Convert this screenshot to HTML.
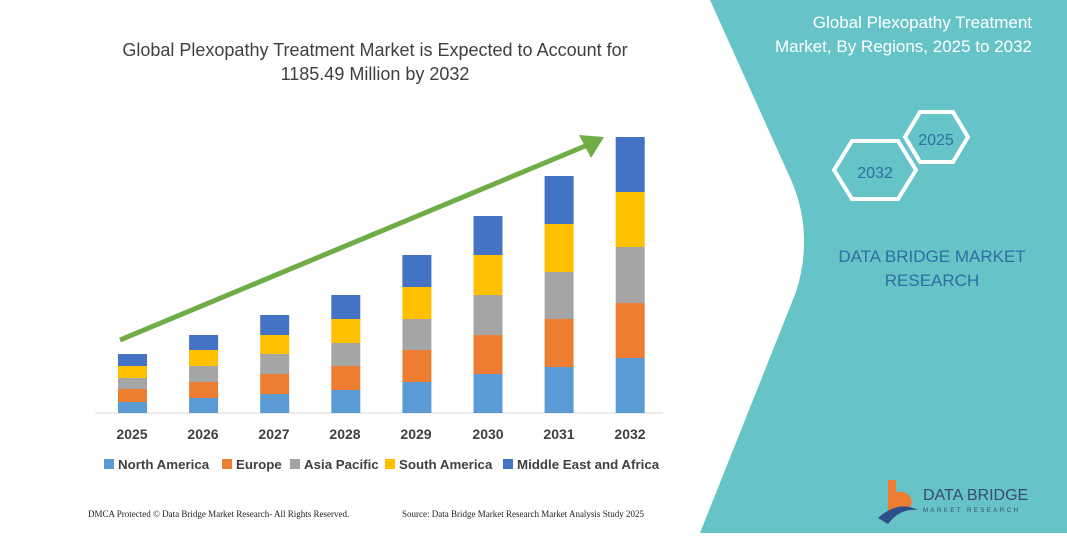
<!DOCTYPE html>
<html><head><meta charset="utf-8"><style>
body{margin:0;width:1067px;height:533px;overflow:hidden;background:#fff;font-family:"Liberation Sans",sans-serif}
</style></head><body>
<svg width="1067" height="533" xmlns="http://www.w3.org/2000/svg">
<path d="M710,0 L1067,0 L1067,533 L700,533 L796,292 Q814,235 792,182 Z" fill="#66c4c8"/>
<text x="375" y="56" text-anchor="middle" font-size="18" fill="#404040" font-family="Liberation Sans, sans-serif">Global Plexopathy Treatment Market is Expected to Account for</text>
<text x="375" y="80" text-anchor="middle" font-size="18" fill="#404040" font-family="Liberation Sans, sans-serif">1185.49 Million by 2032</text>
<text x="1032" y="28" text-anchor="end" font-size="17" fill="#fff">Global Plexopathy Treatment</text>
<text x="1032" y="52" text-anchor="end" font-size="17" fill="#fff">Market, By Regions, 2025 to 2032</text>
<polygon points="905,137 920,112 953,112 968,137 953,162 920,162" fill="none" stroke="#fff" stroke-width="4"/>
<text x="936" y="145" text-anchor="middle" font-size="16" fill="#2f6ea5">2025</text>
<polygon points="834,170 852,141 898,141 916,170 898,199 852,199" fill="none" stroke="#fff" stroke-width="4"/>
<text x="875" y="178" text-anchor="middle" font-size="16" fill="#2f6ea5">2032</text>
<text x="932" y="262" text-anchor="middle" font-size="17" fill="#2f6ea5">DATA BRIDGE MARKET</text>
<text x="932" y="286" text-anchor="middle" font-size="17" fill="#2f6ea5">RESEARCH</text>
<g>
<path d="M888,480 h8 v12 q14,-2 16,10 q-2,10 -16,10 h-8z" fill="#ed7d31"/>
<path d="M878,518 q20,-18 40,-8 q-18,-2 -30,14z" fill="#2f4f8a"/>
<text x="923" y="500" font-size="16" fill="#3a4a6a">DATA BRIDGE</text>
<text x="923" y="512" font-size="6" fill="#3a4a6a" letter-spacing="2.5">MARKET RESEARCH</text>
</g>
<line x1="95" y1="413" x2="663" y2="413" stroke="#d9d9d9" stroke-width="1"/>
<g id="bars"></g>
<line x1="120" y1="340" x2="590" y2="144" stroke="#70ad47" stroke-width="5"/>
<polygon points="604,137 579,135 591,158" fill="#70ad47"/>
<g font-size="14" font-weight="bold" fill="#404040" text-anchor="middle">
<text x="132" y="439">2025</text><text x="203" y="439">2026</text><text x="274" y="439">2027</text><text x="345" y="439">2028</text><text x="416" y="439">2029</text><text x="488" y="439">2030</text><text x="559" y="439">2031</text><text x="630" y="439">2032</text>
</g>
<g font-size="13.3" font-weight="bold" fill="#404040">
<rect x="104" y="459" width="10" height="10" fill="#5b9bd5"/><text x="118" y="469">North America</text>
<rect x="222" y="459" width="10" height="10" fill="#ed7d31"/><text x="236" y="469">Europe</text>
<rect x="290" y="459" width="10" height="10" fill="#a5a5a5"/><text x="304" y="469">Asia Pacific</text>
<rect x="385" y="459" width="10" height="10" fill="#ffc000"/><text x="399" y="469">South America</text>
<rect x="503" y="459" width="10" height="10" fill="#4472c4"/><text x="517" y="469">Middle East and Africa</text>
</g>
<text x="88" y="517" font-size="9" fill="#222" font-family="Liberation Serif, serif">DMCA Protected © Data Bridge Market Research- All Rights Reserved.</text>
<text x="402" y="517" font-size="9" fill="#222" font-family="Liberation Serif, serif">Source: Data Bridge Market Research Market Analysis Study 2025</text>
</svg>
<script>
var d=[[354,366,378,389,402],[335,350,366,382,398],[315,335,354,374,394],[295,319,343,366,390],[255,287,319,350,382],[216,255,295,335,374],[176,224,272,319,367],[137,192,247,303,358]];
var c=["#4472c4","#ffc000","#a5a5a5","#ed7d31","#5b9bd5"];
var g=document.getElementById("bars"),s="";
d.forEach(function(b,i){var x=118+i*71.1;for(var k=0;k<5;k++){var y0=b[k],y1=k<4?b[k+1]:413;s+='<rect x="'+x+'" y="'+y0+'" width="29" height="'+(y1-y0)+'" fill="'+c[k]+'"/>';}});
g.innerHTML=s;
</script>
</body></html>
